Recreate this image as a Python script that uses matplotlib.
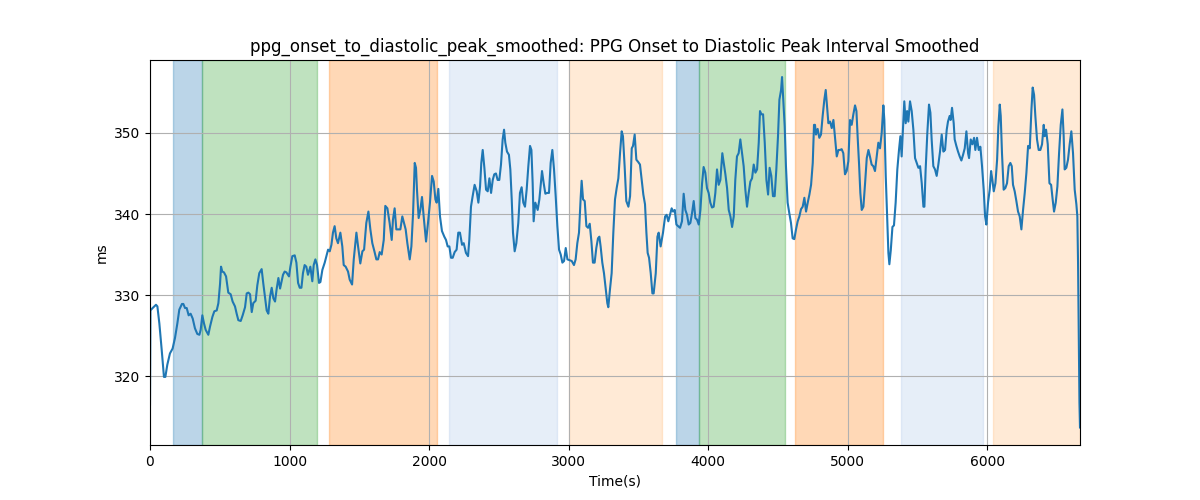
import matplotlib
matplotlib.use("Agg")
import matplotlib.pyplot as plt

TITLE = "ppg_onset_to_diastolic_peak_smoothed: PPG Onset to Diastolic Peak Interval Smoothed"

# time (s) and smoothed interval (ms)
times = [
    0, 3, 19, 43, 53, 67, 84, 100, 110, 124, 143, 162, 179, 196, 210, 229, 239, 251, 263, 277,
    291, 306, 322, 339, 354, 363, 375, 387, 399, 418, 430, 447, 461, 478, 490, 502, 509, 518, 530, 545,
    561, 578, 592, 609, 621, 633, 650, 664, 681, 693, 705, 717, 729, 740, 757, 769, 783, 800, 812, 824,
    836, 848, 860, 872, 884, 896, 908, 920, 932, 953, 965, 977, 996, 1006, 1020, 1037, 1049, 1061, 1073, 1085,
    1096, 1108, 1120, 1132, 1149, 1163, 1173, 1185, 1197, 1211, 1221, 1235, 1252, 1264, 1276, 1288, 1300, 1311, 1323, 1335,
    1347, 1364, 1378, 1388, 1402, 1419, 1431, 1448, 1460, 1479, 1491, 1507, 1522, 1534, 1550, 1565, 1579, 1593, 1608, 1622,
    1634, 1646, 1660, 1675, 1686, 1701, 1717, 1732, 1741, 1753, 1765, 1782, 1794, 1808, 1820, 1832, 1844, 1861, 1873, 1885,
    1897, 1906, 1913, 1925, 1937, 1949, 1961, 1978, 1992, 2006, 2021, 2033, 2045, 2054, 2066, 2078, 2092, 2109, 2121, 2133,
    2145, 2157, 2169, 2183, 2197, 2209, 2221, 2236, 2248, 2264, 2279, 2288, 2300, 2312, 2326, 2341, 2353, 2365, 2374, 2384,
    2396, 2408, 2420, 2432, 2444, 2456, 2467, 2479, 2491, 2503, 2515, 2527, 2537, 2546, 2558, 2572, 2582, 2592, 2601, 2613,
    2625, 2639, 2651, 2663, 2675, 2687, 2699, 2711, 2723, 2733, 2742, 2749, 2761, 2778, 2790, 2809, 2821, 2833, 2845, 2859,
    2871, 2883, 2895, 2907, 2919, 2931, 2943, 2955, 2967, 2979, 2991, 3007, 3022, 3038, 3050, 3062, 3074, 3086, 3093, 3103,
    3115, 3127, 3139, 3151, 3163, 3174, 3186, 3198, 3210, 3220, 3229, 3241, 3253, 3265, 3277, 3284, 3296, 3308, 3320, 3332,
    3344, 3356, 3368, 3380, 3389, 3401, 3413, 3428, 3440, 3452, 3461, 3473, 3485, 3499, 3511, 3523, 3535, 3547, 3557, 3566,
    3576, 3588, 3600, 3609, 3624, 3636, 3645, 3659, 3676, 3691, 3702, 3714, 3726, 3738, 3748, 3760, 3772, 3784, 3798, 3812,
    3824, 3836, 3848, 3860, 3872, 3884, 3896, 3908, 3920, 3932, 3944, 3956, 3967, 3979, 3991, 4003, 4015, 4027, 4039, 4051,
    4063, 4075, 4087, 4101, 4111, 4123, 4135, 4147, 4159, 4171, 4183, 4194, 4206, 4218, 4230, 4242, 4254, 4266, 4278, 4290,
    4302, 4314, 4326, 4338, 4350, 4362, 4371, 4381, 4393, 4405, 4417, 4429, 4440, 4452, 4464, 4476, 4488, 4500, 4510, 4522,
    4529, 4538, 4548, 4557, 4569, 4581, 4593, 4605, 4617, 4629, 4641, 4653, 4665, 4677, 4689, 4701, 4713, 4725, 4737, 4749,
    4758, 4765, 4772, 4784, 4796, 4808, 4820, 4832, 4842, 4851, 4861, 4873, 4885, 4897, 4909, 4921, 4933, 4945, 4956, 4968,
    4980, 4992, 5004, 5016, 5028, 5040, 5052, 5062, 5071, 5081, 5090, 5100, 5112, 5124, 5136, 5148, 5160, 5171, 5183, 5195,
    5207, 5219, 5231, 5243, 5255, 5262, 5272, 5284, 5291, 5298, 5308, 5320, 5331, 5343, 5355, 5367, 5377, 5386, 5396, 5405,
    5415, 5425, 5434, 5446, 5458, 5470, 5482, 5494, 5506, 5518, 5530, 5542, 5549, 5558, 5570, 5582, 5592, 5601, 5613, 5625,
    5637, 5649, 5661, 5673, 5685, 5697, 5709, 5718, 5730, 5737, 5747, 5759, 5766, 5778, 5790, 5802, 5814, 5826, 5838, 5850,
    5862, 5869, 5881, 5893, 5905, 5914, 5926, 5938, 5950, 5962, 5974, 5984, 5993, 6005, 6017, 6027, 6036, 6046, 6058, 6070,
    6079, 6089, 6096, 6105, 6117, 6129, 6141, 6153, 6165, 6175, 6184, 6196, 6208, 6220, 6232, 6244, 6256, 6268, 6280, 6292,
    6304, 6316, 6325, 6335, 6344, 6356, 6368, 6380, 6392, 6404, 6411, 6421, 6433, 6445, 6457, 6468, 6478, 6490, 6502, 6514,
    6526, 6538, 6547, 6554, 6566, 6578, 6590, 6602, 6614, 6626, 6638, 6645, 6650, 6655, 6660, 6664,
]
values = [
    316.5, 328.1, 328.4, 328.8, 328.6, 326.5, 323.2, 319.9, 319.9, 321.4, 322.8, 323.4, 324.7, 326.5, 328.2, 328.9, 328.9, 328.4, 328.4, 327.5,
    327.7, 327.1, 325.9, 325.2, 325.1, 325.7, 327.5, 326.5, 325.7, 325.1, 326.1, 327.3, 328.0, 328.1, 329.0, 331.4, 333.5, 332.9, 332.8, 332.3,
    330.3, 330.1, 329.2, 328.6, 327.7, 326.9, 326.8, 327.5, 328.5, 330.2, 330.3, 330.1, 327.9, 329.0, 329.3, 331.2, 332.7, 333.2, 331.4, 329.8,
    328.1, 327.7, 329.8, 330.9, 329.6, 329.2, 330.8, 332.1, 330.8, 332.5, 332.9, 332.8, 332.3, 333.5, 334.8, 334.9, 334.0, 331.5, 330.9, 330.9,
    332.7, 333.7, 333.5, 332.5, 333.5, 331.7, 333.7, 334.4, 333.7, 331.5, 331.6, 333.1, 334.0, 334.8, 335.6, 335.4, 336.2, 337.7, 338.5, 337.0,
    336.4, 337.7, 336.0, 333.7, 333.5, 332.9, 331.9, 331.3, 334.4, 337.7, 336.0, 333.9, 335.4, 335.6, 338.9, 340.3, 338.1, 336.4, 335.4, 334.4,
    334.4, 335.3, 335.0, 336.8, 341.0, 340.7, 338.9, 336.8, 339.3, 340.7, 338.1, 338.1, 338.1, 339.7, 338.9, 338.1, 336.4, 334.4, 336.0, 340.1,
    346.3, 345.7, 343.0, 339.5, 340.5, 342.1, 339.7, 336.6, 338.9, 341.4, 344.7, 344.0, 341.8, 341.4, 343.1, 339.7, 337.9, 337.2, 336.8, 336.0,
    336.0, 334.6, 334.6, 335.3, 335.6, 337.7, 337.7, 336.2, 336.4, 335.2, 334.8, 336.8, 340.9, 342.2, 343.6, 342.8, 341.4, 343.4, 346.3, 347.9,
    345.7, 343.0, 342.8, 344.4, 342.6, 344.2, 344.9, 345.0, 344.2, 344.2, 346.1, 349.2, 350.4, 348.8, 347.7, 347.3, 345.5, 341.8, 337.7, 335.4,
    336.4, 338.9, 342.6, 343.3, 341.4, 340.9, 343.0, 345.9, 348.4, 347.9, 343.8, 339.1, 341.4, 340.5, 341.8, 345.3, 343.8, 342.5, 342.6, 342.6,
    346.3, 347.9, 345.5, 342.2, 338.5, 335.6, 335.0, 334.0, 334.2, 335.8, 334.4, 334.3, 334.2, 333.7, 334.4, 336.4, 337.7, 342.0, 344.1, 341.8,
    341.6, 338.5, 338.3, 338.8, 336.6, 334.0, 334.0, 335.8, 337.0, 337.2, 336.0, 334.0, 332.7, 330.9, 329.0, 328.5, 330.7, 332.7, 337.7, 341.8,
    343.2, 344.4, 347.5, 350.2, 349.6, 345.9, 341.6, 340.9, 342.2, 348.1, 348.4, 349.8, 346.7, 346.4, 346.1, 344.2, 342.4, 341.2, 337.7, 335.2,
    334.6, 332.7, 330.2, 330.2, 332.7, 337.2, 337.7, 336.0, 337.7, 339.7, 339.9, 339.1, 339.9, 340.7, 340.3, 340.5, 338.7, 338.5, 338.3, 339.1,
    342.5, 340.5, 339.9, 338.7, 338.9, 340.1, 341.6, 339.5, 339.3, 338.7, 340.5, 343.8, 345.8, 345.1, 343.2, 342.6, 341.4, 340.8, 340.9, 342.6,
    345.5, 343.6, 344.2, 347.5, 346.3, 344.9, 343.2, 340.5, 339.7, 338.4, 339.7, 344.2, 347.1, 347.5, 349.2, 347.5, 345.9, 343.0, 340.9, 342.6,
    344.0, 344.4, 346.1, 345.1, 345.5, 348.8, 352.7, 352.3, 352.3, 348.8, 344.2, 342.4, 345.7, 344.7, 342.2, 342.2, 345.5, 349.6, 354.1, 355.3,
    356.9, 354.1, 350.8, 345.9, 341.4, 340.1, 338.9, 337.0, 336.9, 338.1, 339.1, 339.7, 340.6, 340.9, 342.0, 340.3, 341.4, 342.4, 343.6, 346.3,
    351.0, 351.0, 349.8, 350.5, 349.4, 349.8, 352.1, 354.1, 355.3, 353.3, 351.2, 351.4, 350.6, 351.6, 349.4, 347.1, 347.9, 347.9, 348.0, 347.5,
    344.9, 345.3, 346.5, 351.6, 351.0, 352.3, 353.4, 352.7, 349.4, 346.1, 342.6, 340.5, 340.9, 343.8, 346.9, 347.9, 347.0, 346.1, 345.9, 345.3,
    347.1, 348.8, 348.1, 350.0, 353.4, 351.6, 344.7, 338.5, 335.2, 333.8, 335.5, 338.4, 338.6, 341.4, 345.5, 347.9, 349.6, 347.1, 350.8, 353.9,
    351.2, 352.7, 351.4, 353.9, 352.7, 350.4, 346.9, 346.3, 345.7, 345.9, 343.8, 340.9, 340.9, 345.5, 350.0, 353.5, 352.5, 349.2, 345.9, 345.5,
    344.7, 346.1, 347.7, 349.8, 347.7, 347.9, 350.4, 351.4, 352.1, 351.6, 353.1, 351.2, 349.2, 348.4, 347.7, 347.1, 346.6, 347.3, 348.1, 350.2,
    347.5, 346.9, 349.2, 348.6, 349.4, 347.9, 349.4, 347.9, 348.3, 345.9, 343.0, 339.7, 338.7, 341.4, 343.0, 345.3, 344.2, 342.8, 343.8, 346.7,
    350.8, 353.5, 352.1, 347.5, 343.0, 343.2, 343.8, 345.9, 346.3, 345.9, 343.6, 342.8, 341.6, 340.3, 339.7, 338.1, 340.5, 342.6, 345.1, 348.4,
    348.1, 352.9, 355.6, 354.7, 352.1, 349.2, 347.9, 347.9, 348.6, 351.0, 349.6, 350.4, 348.6, 343.8, 343.6, 341.8, 340.3, 341.4, 343.4, 347.5,
    351.0, 352.9, 349.6, 345.5, 345.7, 346.7, 348.6, 350.2, 347.5, 343.0, 341.2, 339.7, 334.0, 325.7, 316.7, 313.66,
]

# shaded segments: start, end, phase index
span_starts = [165, 370, 1283, 2143, 3002, 3769, 3936, 4622, 5382, 6039]
span_ends = [370, 1195, 2059, 2914, 3667, 3936, 4548, 5255, 5967, 6664]
span_phases = [0, 1, 2, 3, 4, 0, 1, 2, 3, 4]

phase_styles = {
    0: ("tab:blue", 0.3),
    1: ("tab:green", 0.3),
    2: ("tab:orange", 0.3),
    3: ("#aec7e8", 0.3),
    4: ("#ffbb78", 0.3),
}


def main():
    fig, ax = plt.subplots(figsize=(12, 5), dpi=100)
    for s, e, p in zip(span_starts, span_ends, span_phases):
        color, alpha = phase_styles[p]
        ax.axvspan(s, e, color=color, alpha=alpha)
    ax.plot(times, values, color="tab:blue", linewidth=1.5)
    ax.set_xlim(times[0], times[-1])
    ax.set_ylim(311.5, 359.0)
    ax.grid(True)
    ax.set_title(TITLE)
    ax.set_xlabel("Time(s)")
    ax.set_ylabel("ms")
    fig.savefig("out.png")
    plt.close(fig)


if __name__ == "__main__":
    main()
